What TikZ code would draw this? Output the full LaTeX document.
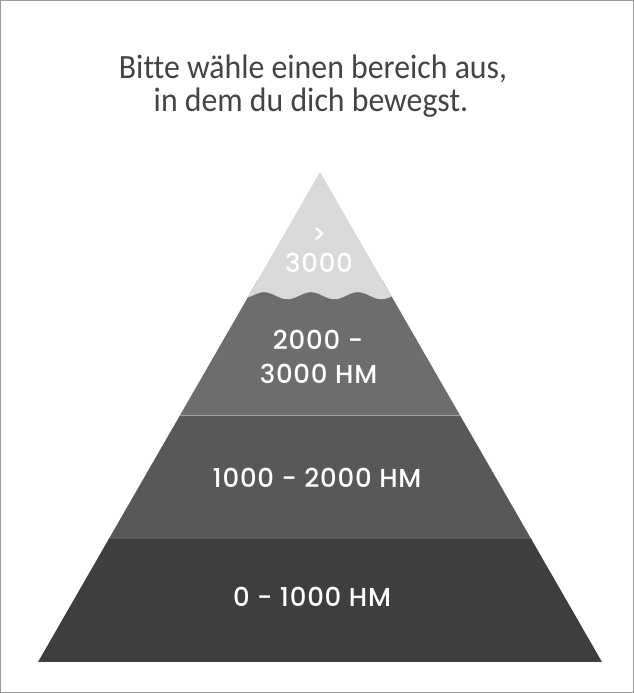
\documentclass[tikz,border=0pt]{standalone}
\usepackage{fontspec}
\setmainfont{Carlito}[FakeStretch=0.935, Ligatures=NoCommon]
\newfontfamily\labelfont{Poppins}[UprightFont=* Medium, LetterSpace=3]
\definecolor{peak}{HTML}{D9D9D9}
\definecolor{bandA}{HTML}{6E6D6E}
\definecolor{bandB}{HTML}{595858}
\definecolor{bandC}{HTML}{3E3E3E}
\definecolor{titlecol}{HTML}{444444}
\definecolor{framecol}{HTML}{9A9A9A}
\tikzset{
  titletext/.style={font=\fontsize{34}{40}\selectfont, text=titlecol, anchor=base, inner sep=0pt},
  bandlabel/.style={font=\labelfont\fontsize{26}{30}\selectfont, text=white, anchor=base, inner sep=0pt},
}
\begin{document}
\begin{tikzpicture}[x=1pt,y=-1pt]
\useasboundingbox (0,0) rectangle (634,693);
\fill[white] (0,0) rectangle (634,693);
\draw[framecol, line width=1pt] (0.5,0.5) rectangle (633.5,692.5);
% title
\node[titletext] (t1) at (313,78.3) {Bitte wähle einen bereich aus,};
\node[titletext] (t2) at (311,111.7) {in dem du dich bewegst.};
% pyramid
\coordinate (apex) at (320,172);
\coordinate (bl) at (38,662);
\coordinate (br) at (602,662);
\begin{scope}
\clip (apex) -- (br) -- (bl) -- cycle;
\fill[bandA] (0,280) rectangle (634,415);
\fill[bandB] (0,415) rectangle (634,539);
\fill[bandC] (0,539) rectangle (634,662);
\fill[peak] plot[domain=230:410, samples=120] (\x, {295.7-3.5*cos(7.6596*(\x-264))}) -- (410,160) -- (230,160) -- cycle;
\draw[line width=1pt, color=gray!75] (0,415) -- (634,415);
\draw[line width=1pt, color=gray!45!black] (0,539) -- (634,539);
\end{scope}
% labels
\node[bandlabel] (gt) at (319,243) {>};
\node[bandlabel] (p3) at (319,272) {3000};
\node[bandlabel] (p2a) at (318,349.3) {2000 -};
\node[bandlabel] (p2b) at (318.5,383.3) {3000 HM};
\node[bandlabel] (p1) at (317,487) {1000 - 2000 HM};
\node[bandlabel] (p0) at (312,606) {0 - 1000 HM};
\end{tikzpicture}
\end{document}
